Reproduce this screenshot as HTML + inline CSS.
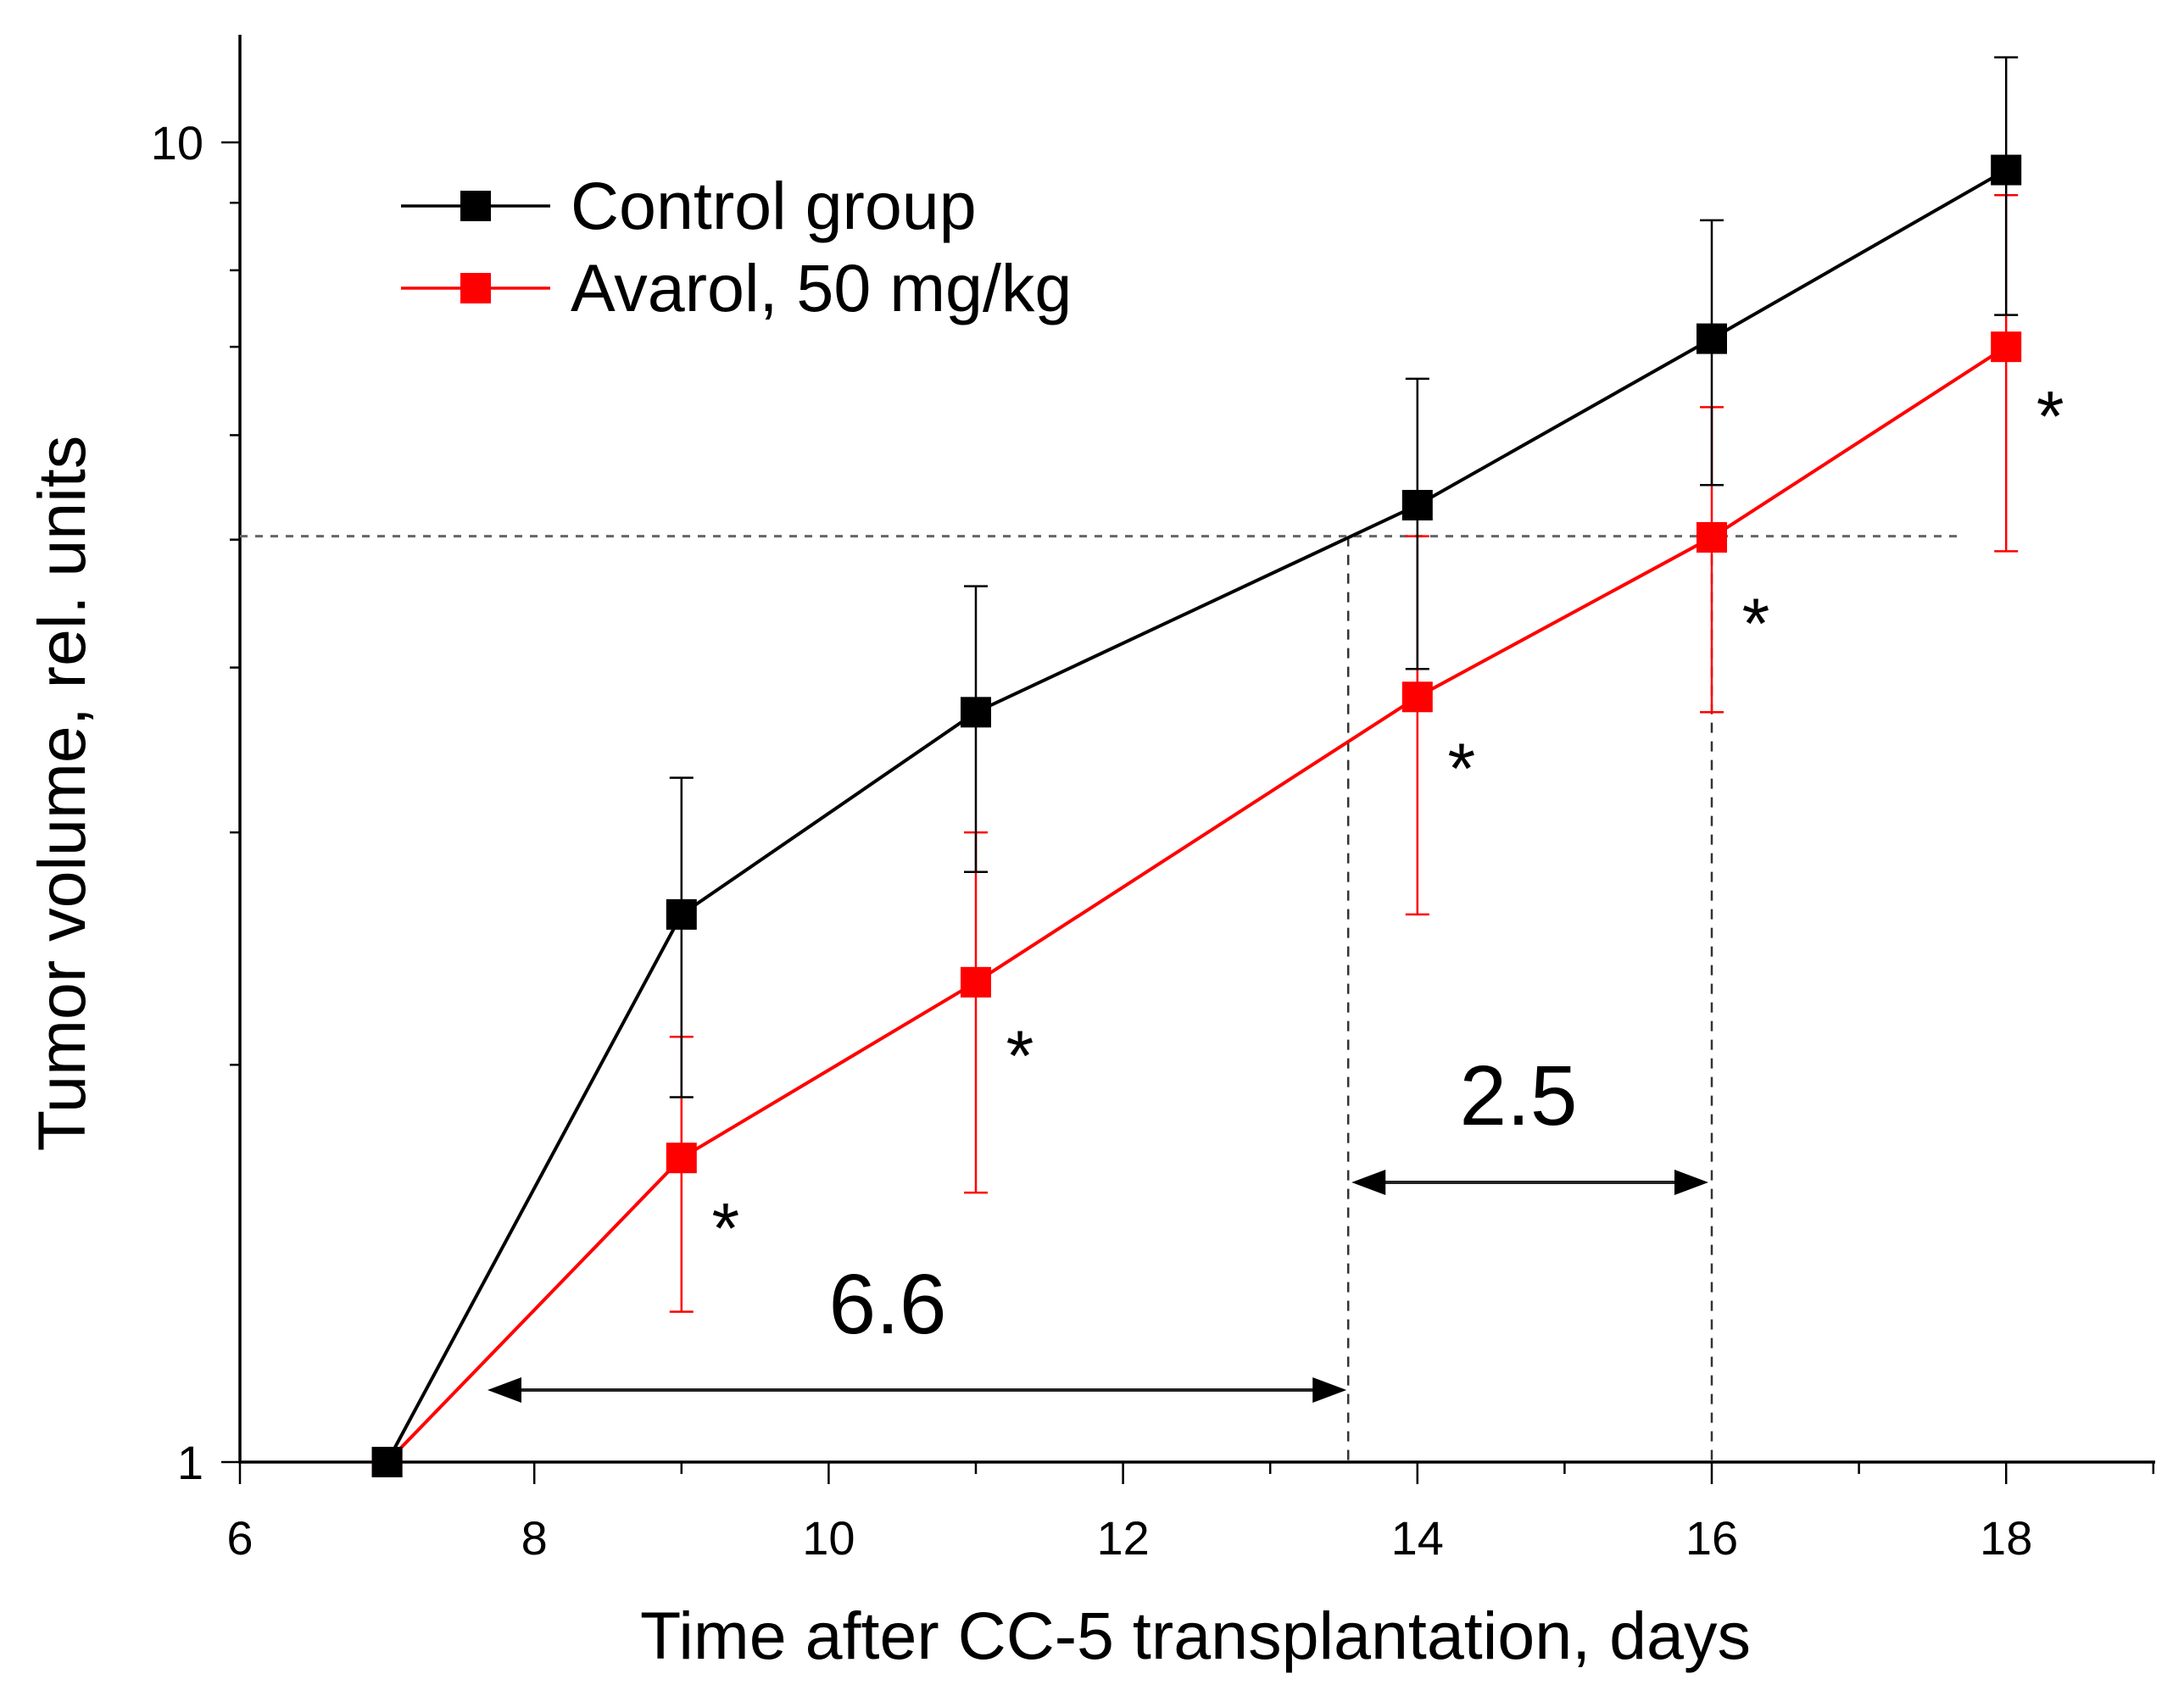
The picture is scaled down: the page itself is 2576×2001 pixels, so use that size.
<!DOCTYPE html>
<html><head><meta charset="utf-8">
<style>
html,body{margin:0;padding:0;background:#fff;}
svg{display:block;font-family:"Liberation Sans",Arial,sans-serif;}
</style></head>
<body>
<svg id="chart" width="2576" height="2001" viewBox="0 0 2576 2001" xmlns="http://www.w3.org/2000/svg">
<g id="axes"></g>
<g id="annot"></g>
<g id="series"></g>
<g id="legend">
  <line x1="473" y1="243" x2="649" y2="243" stroke="#000" stroke-width="3.5"/>
  <rect x="543" y="225" width="36" height="36" fill="#000"/>
  <text x="673" y="270" font-size="79">Control group</text>
  <line x1="473" y1="340" x2="649" y2="340" stroke="#f00" stroke-width="3.5"/>
  <rect x="543" y="322" width="36" height="36" fill="#f00"/>
  <text x="673" y="367" font-size="79">Avarol, 50 mg/kg</text>
</g>
<text x="1410" y="1957" font-size="79" text-anchor="middle">Time after CC-5 transplantation, days</text>
<text transform="translate(100,936) rotate(-90)" font-size="79" text-anchor="middle">Tumor volume, rel. units</text>
</svg>
<script>
const days = [7, 9, 11, 14, 16, 18];
const controlMean = [1.0, 2.60, 3.70, 5.31, 7.10, 9.53];
const controlUpper = [1.0, 3.30, 4.61, 6.62, 8.73, 11.6];
const controlLower = [1.0, 1.89, 2.80, 3.99, 5.50, 7.40];
const avarolMean = [1.0, 1.70, 2.31, 3.80, 5.02, 7.00];
const avarolUpper = [1.0, 2.10, 3.00, 5.03, 6.30, 9.12];
const avarolLower = [1.0, 1.30, 1.60, 2.60, 3.70, 4.90];
const xTicks = [6, 8, 10, 12, 14, 16, 18];
const yTickLabels = [1, 10];
const starDays = [9, 11, 14, 16, 18];
const starValues = [1.48, 2.0, 3.3, 4.25, 6.1];
const refLevel = 5.03;
const refDay = 13.53;
const refDay2 = 16;

const NS = "http://www.w3.org/2000/svg";
const X0 = 283, DX = 173.6, Y1 = 1725, DEC = 1557;
const xs = d => X0 + (d - 6) * DX;
const ys = v => Y1 - Math.log10(v) * DEC;
function mk(parent, tag, attrs) {
  const e = document.createElementNS(NS, tag);
  for (const k in attrs) e.setAttribute(k, attrs[k]);
  parent.appendChild(e);
  return e;
}
const axes = document.getElementById('axes');
const annot = document.getElementById('annot');
const series = document.getElementById('series');

let a = mk(axes, 'line', {x1: X0, y1: 41, x2: X0, y2: Y1 + 1.5, stroke: '#000', 'stroke-width': 3.5});


a = mk(axes, 'line', {x1: X0 - 1.5, y1: Y1, x2: 2542, y2: Y1, stroke: '#000', 'stroke-width': 3.5});



for (let d = 6; d <= 19; d++) {
  const major = d % 2 === 0;
  const t = mk(axes, 'line', {x1: xs(d), y1: Y1, x2: xs(d), y2: Y1 + (major ? 26 : 14), stroke: '#000', 'stroke-width': 2.5});
  
  
}
xTicks.forEach(d => {
  const t = mk(axes, 'text', {x: xs(d), y: 1834, 'font-size': 56, 'text-anchor': 'middle'});
  t.textContent = d;
  
  
});
for (let v = 1; v <= 10; v++) {
  const major = (v === 1 || v === 10);
  const t = mk(axes, 'line', {x1: X0, y1: ys(v), x2: X0 - (major ? 22 : 12), y2: ys(v), stroke: '#000', 'stroke-width': 2.5});
  
  
}
yTickLabels.forEach(v => {
  const t = mk(axes, 'text', {x: 240, y: ys(v) + 20, 'font-size': 56, 'text-anchor': 'end'});
  t.textContent = v;
  
  
});

let r = mk(annot, 'line', {x1: X0, y1: ys(refLevel), x2: 2308, y2: ys(refLevel), stroke: '#666', 'stroke-width': 3, 'stroke-dasharray': '9 9'});


r = mk(annot, 'line', {x1: xs(refDay), y1: ys(refLevel), x2: xs(refDay), y2: Y1, stroke: '#333', 'stroke-width': 2.5, 'stroke-dasharray': '12 10'});


r = mk(annot, 'line', {x1: xs(refDay2), y1: ys(refLevel), x2: xs(refDay2), y2: Y1, stroke: '#333', 'stroke-width': 2.5, 'stroke-dasharray': '12 10'});



function arrow(xa, xb, y, name) {
  const g = mk(annot, 'g', {});
  
  
  mk(g, 'line', {x1: xa + 30, y1: y, x2: xb - 30, y2: y, stroke: '#222', 'stroke-width': 4});
  mk(g, 'polygon', {points: `${xa},${y} ${xa + 40},${y - 15} ${xa + 40},${y + 15}`, fill: '#000'});
  mk(g, 'polygon', {points: `${xb},${y} ${xb - 40},${y - 15} ${xb - 40},${y + 15}`, fill: '#000'});
}
arrow(575, xs(refDay) - 2, 1640, 'arrow-6-6');
arrow(xs(refDay) + 4, xs(refDay2) - 4, 1395, 'arrow-2-5');
let l = mk(annot, 'text', {x: 1047, y: 1573, 'font-size': 100, 'text-anchor': 'middle'});
l.textContent = '6.6';


l = mk(annot, 'text', {x: 1791, y: 1327, 'font-size': 100, 'text-anchor': 'middle'});
l.textContent = '2.5';



function drawSeries(mean, up, lo, color, name, ebWidth) {
  const g = mk(series, 'g', {});
  
  
  days.forEach((d, i) => {
    if (up[i] === lo[i]) return;
    const x = xs(d);
    const eb = mk(g, 'path', {d: `M${x},${ys(up[i])}V${ys(lo[i])}M${x - 14},${ys(up[i])}H${x + 14}M${x - 14},${ys(lo[i])}H${x + 14}`, stroke: color, 'stroke-width': ebWidth, fill: 'none'});
    
    
  });
  const ln = mk(g, 'polyline', {points: days.map((d, i) => xs(d) + ',' + ys(mean[i])).join(' '), stroke: color, 'stroke-width': 4, fill: 'none'});
  
  
  days.forEach((d, i) => {
    const m = mk(g, 'rect', {x: xs(d) - 18, y: ys(mean[i]) - 18, width: 36, height: 36, fill: color});
    
    
  });
}
drawSeries(avarolMean, avarolUpper, avarolLower, '#f00', 'series-avarol', 2.5);
drawSeries(controlMean, controlUpper, controlLower, '#000', 'series-control', 2.5);
starDays.forEach((d, i) => {
  const s = mk(annot, 'text', {x: xs(d) + 52, y: ys(starValues[i]) + 18, 'font-size': 84, 'text-anchor': 'middle'});
  s.textContent = '*';
  
  
});
</script>
</body></html>
